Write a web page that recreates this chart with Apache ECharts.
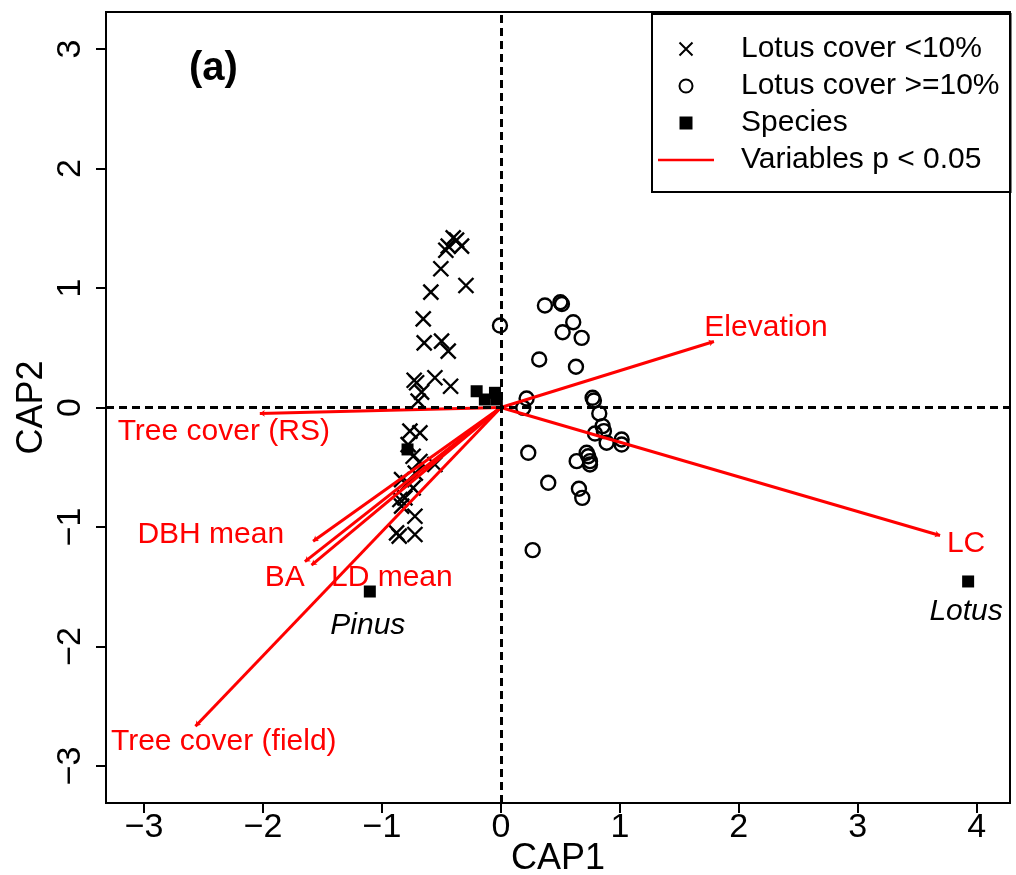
<!DOCTYPE html>
<html>
<head>
<meta charset="utf-8">
<script src="https://cdn.jsdelivr.net/npm/echarts@6/dist/echarts.min.js"></script>
<style>
  html, body { margin: 0; padding: 0; background: #fff; }
  #chart { width: 1016px; height: 875px; }
</style>
</head>
<body>
<div id="chart"></div>
<script>
// site scores, Lotus cover < 10%
const lowLotus = [
    [-0.401, 1.420], [-0.373, 1.400], [-0.443, 1.350], [-0.331, 1.350], [-0.463, 1.316],
    [-0.505, 1.161], [-0.294, 1.021], [-0.589, 0.965], [-0.653, 0.742], [-0.645, 0.541],
    [-0.499, 0.555], [-0.443, 0.471], [-0.729, 0.228], [-0.709, 0.207], [-0.555, 0.249],
    [-0.423, 0.178], [-0.667, 0.128], [-0.696, 0.053], [-0.765, -0.198], [-0.681, -0.212],
    [-0.780, -0.310], [-0.738, -0.408], [-0.681, -0.452], [-0.555, -0.477], [-0.720, -0.550],
    [-0.835, -0.603], [-0.780, -0.630], [-0.738, -0.672], [-0.849, -0.770], [-0.807, -0.756],
    [-0.835, -0.826], [-0.723, -0.910], [-0.877, -1.049], [-0.855, -1.077], [-0.723, -1.063]
];

// site scores, Lotus cover >= 10%
const highLotus = [
    [-0.008, 0.686], [0.370, 0.854], [0.500, 0.881], [0.513, 0.866], [0.608, 0.714],
    [0.519, 0.630], [0.679, 0.583], [0.322, 0.402], [0.631, 0.341], [0.216, 0.075],
    [0.188, -0.003], [0.771, 0.081], [0.782, 0.059], [0.827, -0.050], [0.855, -0.156],
    [0.791, -0.218], [0.866, -0.198], [0.889, -0.295], [1.015, -0.268], [1.015, -0.310],
    [0.230, -0.379], [0.637, -0.449], [0.721, -0.379], [0.734, -0.408], [0.749, -0.449],
    [0.749, -0.477], [0.398, -0.630], [0.656, -0.680], [0.684, -0.756], [0.267, -1.194]
];

// species scores
const species = [
    [-0.204, 0.136], [-0.135, 0.067], [-0.050, 0.123], [-0.034, 0.067],
    [-0.785, -0.351], [-1.102, -1.540], [3.928, -1.456]
];
const speciesNames = ["Pinus", "Lotus"];
const speciesNamePos = [[-1.119, -1.824], [3.911, -1.707]];

// environmental variables (p < 0.05)
const varNames = ["Elevation", "LC", "Tree cover (RS)", "DBH mean", "BA", "LD mean", "Tree cover (field)"];
const varEnds = [
    [1.791, 0.552], [3.692, -1.071], [-2.027, -0.050], [-1.579, -1.119],
    [-1.648, -1.290], [-1.592, -1.320], [-2.568, -2.667]
];
const varLabelPos = [
    [2.229, 0.669], [3.911, -1.138], [-2.330, -0.201], [-2.439, -1.063],
    [-1.817, -1.423], [-0.917, -1.423], [-2.330, -2.795]
];

const xTicks = [-3, -2, -1, 0, 1, 2, 3, 4];
const yTicks = [-3, -2, -1, 0, 1, 2, 3];

const FONT = "Liberation Sans";
const crossPath = "path://M0,0L10,10M0,10L10,0";
const minus = (v) => String(v).replace("-", "\u2212");

const chart = echarts.init(document.getElementById("chart"));

const option = {
    backgroundColor: "#fff",
    animation: false,
    textStyle: { fontFamily: FONT },
    grid: {
        left: 106, top: 12, right: 6, bottom: 72,
        outerBoundsMode: "none", containLabel: false,
        show: true, borderColor: "#000", borderWidth: 2, backgroundColor: "transparent"
    },
    xAxis: {
        type: "value", min: -3.32, max: 4.28,
        name: "CAP1", nameLocation: "middle", nameGap: 38, nameMoveOverlap: false,
        nameTextStyle: { fontSize: 36, color: "#000", fontFamily: FONT },
        axisLine: { show: false, onZero: false },
        axisTick: { show: true, length: 10, customValues: xTicks, lineStyle: { color: "#000", width: 2 } },
        axisLabel: { customValues: xTicks, fontSize: 34, color: "#000", margin: 8, formatter: minus },
        splitLine: { show: false }
    },
    yAxis: {
        type: "value", min: -3.31, max: 3.31,
        name: "CAP2", nameLocation: "middle", nameGap: 56, nameRotate: 90, nameMoveOverlap: false,
        nameTextStyle: { fontSize: 36, color: "#000", fontFamily: FONT },
        axisLine: { show: false, onZero: false },
        axisTick: { show: true, length: 10, customValues: yTicks, lineStyle: { color: "#000", width: 2 } },
        axisLabel: { customValues: yTicks, fontSize: 34, color: "#000", margin: 18, rotate: 90, formatter: minus },
        splitLine: { show: false }
    },
    legend: {
        orient: "vertical", left: 652, top: 14,
        borderColor: "#000", borderWidth: 2, borderRadius: 0,
        padding: [20, 11, 17, 6],
        itemWidth: 56, itemHeight: 13, itemGap: 7,
        textStyle: { fontSize: 30, color: "#000", fontFamily: FONT, lineHeight: 30, padding: [0, 0, 0, 22] },
        selectedMode: false,
        data: [
            { name: "Lotus cover <10%", icon: crossPath },
            { name: "Lotus cover >=10%", icon: "circle" },
            { name: "Species", icon: "path://M0,0H10V10H0Z" },
            { name: "Variables p < 0.05", icon: "path://M0,0H56V2.5H0Z", itemStyle: { color: "#ff0000", borderWidth: 0 } }
        ]
    },
    graphic: [{
        type: "text", left: 189, top: 49,
        style: { text: "(a)", font: "bold 40px " + FONT, fill: "#000" }
    }],
    series: [
        {
            name: "Lotus cover <10%", type: "scatter", data: lowLotus,
            symbol: crossPath, symbolSize: 15, z: 2,
            itemStyle: { color: "rgba(0,0,0,0)", borderColor: "#000", borderWidth: 2.4, opacity: 1 },
            markLine: {
                silent: true, symbol: "none", label: { show: false },
                lineStyle: { color: "#000", type: [8, 5], width: 3 },
                data: [{ yAxis: 0 }, { xAxis: 0 }]
            }
        },
        {
            name: "Lotus cover >=10%", type: "scatter", data: highLotus,
            symbol: "circle", symbolSize: 14, z: 2,
            itemStyle: { color: "rgba(0,0,0,0)", borderColor: "#000", borderWidth: 2.4, opacity: 1 }
        },
        {
            name: "Species", type: "scatter", data: species,
            symbol: "rect", symbolSize: 12, z: 3,
            itemStyle: { color: "#000", opacity: 1 }
        },
        {
            name: "Variables p < 0.05", type: "lines", coordinateSystem: "cartesian2d",
            z: 4, symbol: ["none", "arrow"], symbolSize: 5,
            lineStyle: { color: "#ff0000", width: 3, opacity: 1 },
            data: varEnds.map((p) => ({ coords: [[0, 0], p] }))
        },
        {
            name: "varLabels", type: "scatter", z: 5, symbolSize: 1,
            itemStyle: { color: "rgba(0,0,0,0)", opacity: 1 },
            label: { show: true, position: "inside", formatter: "{b}", fontSize: 30, color: "#ff0000", fontFamily: FONT },
            data: varNames.map((n, i) => ({ name: n, value: varLabelPos[i] }))
        },
        {
            name: "speciesLabels", type: "scatter", z: 5, symbolSize: 1,
            itemStyle: { color: "rgba(0,0,0,0)", opacity: 1 },
            label: { show: true, position: "inside", formatter: "{b}", fontSize: 30, fontStyle: "italic", color: "#000", fontFamily: FONT },
            data: speciesNames.map((n, i) => ({ name: n, value: speciesNamePos[i] }))
        }
    ]
};

chart.setOption(option);
</script>
</body>
</html>
